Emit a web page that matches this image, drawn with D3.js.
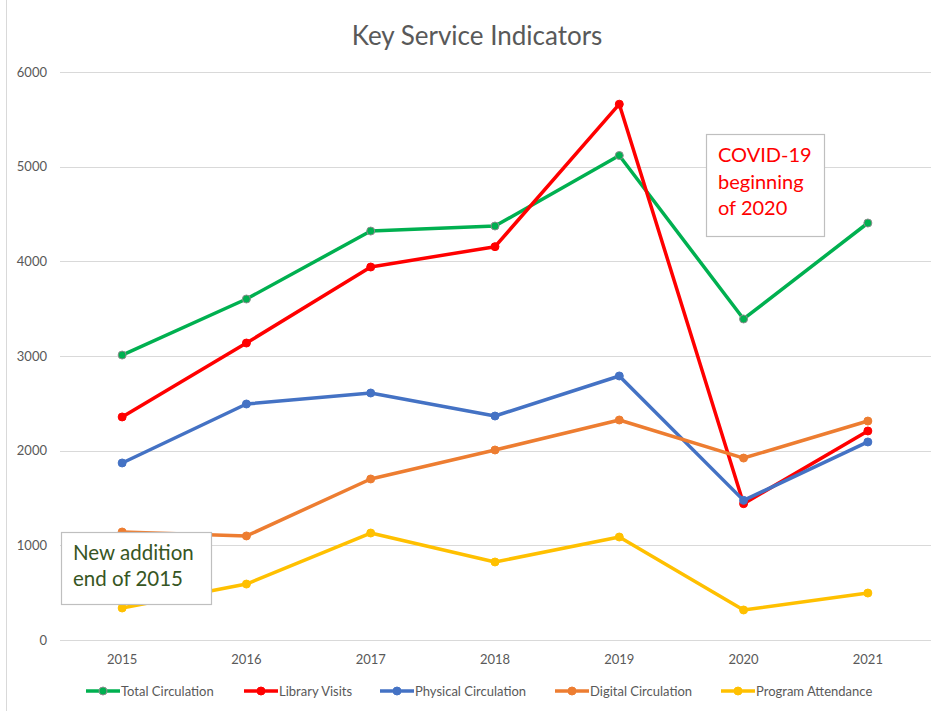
<!DOCTYPE html>
<html>
<head>
<meta charset="utf-8">
<script src="https://cdn.jsdelivr.net/npm/d3@7"></script>
<style>
  body { margin: 0; background: #fff; }
  svg { display: block; font-family: Lato, "Open Sans", sans-serif; }
</style>
</head>
<body>
<div id="chart"></div>
<script>
// 数据
const years = ['2015', '2016', '2017', '2018', '2019', '2020', '2021']
const totalCirculation = [3010, 3602, 4320, 4373, 5118, 3391, 4405]
const libraryVisits = [2356, 3137, 3940, 4155, 5660, 1440, 2208]
const physicalCirculation = [1870, 2493, 2609, 2366, 2789, 1475, 2092]
const digitalCirculation = [1141, 1099, 1701, 2007, 2324, 1922, 2313]
const programAttendance = [338, 591, 1130, 824, 1088, 317, 496]
const yTicks = [0, 1000, 2000, 3000, 4000, 5000, 6000]

const series = [
  { name: 'Total Circulation', values: totalCirculation, color: '#00B050', outline: '#8c8c8c' },
  { name: 'Library Visits', values: libraryVisits, color: '#FF0000', outline: '#FF0000' },
  { name: 'Physical Circulation', values: physicalCirculation, color: '#4472C4', outline: '#4472C4' },
  { name: 'Digital Circulation', values: digitalCirculation, color: '#ED7D31', outline: '#ED7D31' },
  { name: 'Program Attendance', values: programAttendance, color: '#FFC000', outline: '#FFC000' }
]

const width = 931
const height = 711
const margin = { top: 72, right: 1, bottom: 71, left: 60 }

const svg = d3.select('#chart')
  .append('svg')
  .attr('width', width)
  .attr('height', height)

// 左侧边框（图表区域外框，其余边在画面外）
svg.append('line')
  .attr('x1', 6.5).attr('x2', 6.5)
  .attr('y1', 0).attr('y2', height)
  .attr('stroke', '#d9d9d9')

const x = d3.scalePoint()
  .domain(years)
  .range([margin.left, width - margin.right])
  .padding(0.5)

const y = d3.scaleLinear()
  .domain([0, 6000])
  .range([height - margin.bottom, margin.top])

// 网格线
svg.append('g')
  .selectAll('line')
  .data(yTicks)
  .join('line')
  .attr('x1', margin.left)
  .attr('x2', width)
  .attr('y1', d => Math.round(y(d)) + 0.5)
  .attr('y2', d => Math.round(y(d)) + 0.5)
  .attr('stroke', '#d9d9d9')
  .attr('stroke-width', 1)

// y 轴标签
svg.append('g')
  .selectAll('text')
  .data(yTicks)
  .join('text')
  .attr('x', 47)
  .attr('y', d => y(d) + 4.5)
  .attr('text-anchor', 'end')
  .attr('font-size', 13)
  .attr('fill', '#595959')
  .text(d => d)

// x 轴标签
svg.append('g')
  .selectAll('text')
  .data(years)
  .join('text')
  .attr('x', d => x(d))
  .attr('y', 664)
  .attr('text-anchor', 'middle')
  .attr('font-size', 13)
  .attr('fill', '#595959')
  .text(d => d)

// 标题
svg.append('text')
  .attr('x', 477)
  .attr('y', 45)
  .attr('text-anchor', 'middle')
  .attr('font-size', 26)
  .attr('fill', '#595959')
  .text('Key Service Indicators')

// 折线
const line = d3.line()
  .x((d, i) => x(years[i]))
  .y(d => y(d))

const gSeries = svg.append('g')
series.forEach(s => {
  const g = gSeries.append('g')
  g.append('path')
    .datum(s.values)
    .attr('d', line)
    .attr('fill', 'none')
    .attr('stroke', s.color)
    .attr('stroke-width', 3.5)
    .attr('stroke-linejoin', 'round')
  g.selectAll('circle')
    .data(s.values)
    .join('circle')
    .attr('cx', (d, i) => x(years[i]))
    .attr('cy', d => y(d))
    .attr('r', 4)
    .attr('fill', s.color)
    .attr('stroke', s.outline)
    .attr('stroke-width', 1)
})

// 注释框
const notes = [
  { x: 61, y: 532, w: 150, h: 72, color: '#375623', lines: ['New addition', 'end of 2015'], tx: 73, ty: 560, lh: 26, size: 20.5 },
  { x: 706, y: 134, w: 118, h: 102, color: '#FF0000', lines: ['COVID-19', 'beginning', 'of 2020'], tx: 718, ty: 162, lh: 26.5, size: 20 }
]
notes.forEach(n => {
  svg.append('rect')
    .attr('x', n.x + 0.5).attr('y', n.y + 0.5)
    .attr('width', n.w).attr('height', n.h)
    .attr('fill', '#fff')
    .attr('stroke', '#bfbfbf')
    .attr('stroke-width', 1.2)
  const t = svg.append('text')
    .attr('font-size', n.size)
    .attr('fill', n.color)
  n.lines.forEach((l, i) => {
    t.append('tspan')
      .attr('x', n.tx)
      .attr('y', n.ty + i * n.lh)
      .text(l)
  })
})

// 图例
const legendX = [86, 244, 380, 555, 721]
const legend = svg.append('g')
series.forEach((s, i) => {
  const g = legend.append('g').attr('transform', `translate(${legendX[i]},691)`)
  g.append('line')
    .attr('x1', 0).attr('x2', 34)
    .attr('y1', 0).attr('y2', 0)
    .attr('stroke', s.color)
    .attr('stroke-width', 3.5)
  g.append('circle')
    .attr('cx', 17).attr('cy', 0).attr('r', 4)
    .attr('fill', s.color)
    .attr('stroke', s.outline)
  g.append('text')
    .attr('x', 35)
    .attr('y', 4.5)
    .attr('font-size', 13)
    .attr('fill', '#595959')
    .text(s.name)
})
</script>
</body>
</html>
